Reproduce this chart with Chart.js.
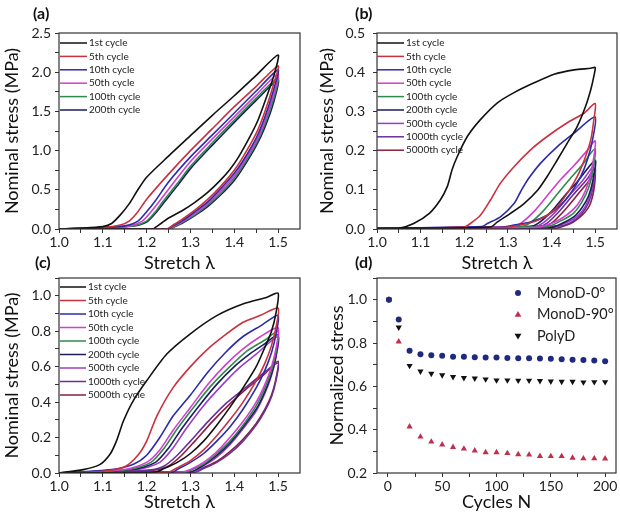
<!DOCTYPE html>
<html>
<head>
<meta charset="utf-8">
<script src="https://cdn.jsdelivr.net/npm/chart.js@4.4.1/dist/chart.umd.min.js"></script>
<style>
  body { margin: 0; background: #fff; width: 620px; height: 519px; position: relative; overflow: hidden; }
  canvas { position: absolute; }
  .lab { position: absolute; font: bold 16px Lato, sans-serif; line-height: 16px; color: #111; }
</style>
</head>
<body>
<canvas id="ca" width="310" height="280" style="left:0;top:0"></canvas>
<canvas id="cb" width="310" height="280" style="left:310px;top:0"></canvas>
<canvas id="cc" width="310" height="264" style="left:0;top:255px"></canvas>
<canvas id="cd" width="310" height="264" style="left:310px;top:255px"></canvas>
<div class="lab" style="left:33px;top:5px">(a)</div>
<div class="lab" style="left:355px;top:5px">(b)</div>
<div class="lab" style="left:35px;top:254px">(c)</div>
<div class="lab" style="left:355px;top:254px">(d)</div>
<script>
// ---- panel (a): [stretch, stress MPa], loading then unloading
const a1st   = [[1.0,0],[1.05,0.01],[1.1,0.03],[1.12,0.07],[1.14,0.18],[1.16,0.32],[1.18,0.5],[1.2,0.66],[1.25,0.93],[1.3,1.19],[1.35,1.45],[1.4,1.7],[1.45,1.96],[1.5,2.22],
                [1.49,1.95],[1.474,1.69],[1.455,1.4],[1.436,1.18],[1.41,0.92],[1.39,0.76],[1.368,0.62],[1.34,0.47],[1.31,0.34],[1.28,0.23],[1.25,0.14],[1.235,0.08],[1.22,0.02],[1.215,0],[1.0,0]];
const a5th   = [[1.0,0],[1.1,0.02],[1.14,0.05],[1.16,0.1],[1.18,0.22],[1.2,0.38],[1.25,0.7],[1.3,1.0],[1.35,1.28],[1.4,1.56],[1.45,1.82],[1.5,2.08],
                [1.49,1.85],[1.47,1.5],[1.45,1.22],[1.42,0.92],[1.4,0.75],[1.37,0.55],[1.34,0.38],[1.31,0.24],[1.28,0.12],[1.26,0.05],[1.245,0],[1.0,0]];
const a10th  = [[1.0,0],[1.1,0.02],[1.15,0.04],[1.18,0.1],[1.2,0.22],[1.22,0.36],[1.25,0.6],[1.3,0.92],[1.35,1.2],[1.4,1.48],[1.45,1.76],[1.5,2.03],
                [1.49,1.78],[1.47,1.43],[1.45,1.16],[1.42,0.87],[1.4,0.71],[1.37,0.52],[1.34,0.35],[1.31,0.22],[1.28,0.1],[1.26,0.04],[1.248,0],[1.0,0]];
const a50th  = [[1.0,0],[1.1,0.02],[1.16,0.04],[1.19,0.1],[1.21,0.22],[1.23,0.36],[1.26,0.58],[1.3,0.86],[1.35,1.15],[1.4,1.43],[1.45,1.71],[1.5,1.98],
                [1.49,1.72],[1.47,1.38],[1.45,1.12],[1.42,0.84],[1.4,0.68],[1.37,0.49],[1.34,0.33],[1.31,0.2],[1.28,0.09],[1.26,0.03],[1.25,0],[1.0,0]];
const a100th = [[1.0,0],[1.1,0.02],[1.17,0.04],[1.2,0.1],[1.22,0.22],[1.24,0.37],[1.27,0.58],[1.3,0.8],[1.35,1.1],[1.4,1.39],[1.45,1.67],[1.5,1.93],
                [1.49,1.67],[1.47,1.34],[1.45,1.09],[1.42,0.81],[1.4,0.65],[1.37,0.46],[1.34,0.31],[1.31,0.18],[1.28,0.08],[1.26,0.02],[1.252,0],[1.0,0]];
const a200th = [[1.0,0],[1.1,0.02],[1.17,0.04],[1.2,0.09],[1.22,0.2],[1.24,0.34],[1.27,0.55],[1.3,0.77],[1.35,1.07],[1.4,1.36],[1.45,1.64],[1.5,1.9],
                [1.49,1.62],[1.47,1.3],[1.45,1.06],[1.42,0.78],[1.4,0.62],[1.37,0.44],[1.34,0.29],[1.31,0.17],[1.28,0.07],[1.26,0.02],[1.255,0],[1.0,0]];

// ---- panel (b)
const b1st    = [[1.0,0.002],[1.05,0.002],[1.084,0.014],[1.12,0.04],[1.145,0.074],[1.161,0.108],[1.172,0.151],[1.184,0.185],[1.207,0.236],[1.237,0.279],[1.276,0.322],[1.314,0.348],[1.36,0.373],[1.406,0.395],[1.452,0.406],[1.49,0.41],[1.5,0.412],
                 [1.497,0.39],[1.49,0.356],[1.478,0.313],[1.459,0.262],[1.436,0.219],[1.413,0.176],[1.39,0.134],[1.368,0.099],[1.337,0.065],[1.306,0.04],[1.276,0.018],[1.26,0.005],[1.0,0.002]];
const b5th    = [[1.0,0.002],[1.2,0.005],[1.214,0.014],[1.237,0.035],[1.26,0.074],[1.283,0.117],[1.314,0.159],[1.352,0.202],[1.39,0.236],[1.436,0.271],[1.475,0.296],[1.5,0.32],
                 [1.496,0.271],[1.49,0.228],[1.478,0.185],[1.459,0.134],[1.436,0.091],[1.406,0.048],[1.368,0.022],[1.329,0.01],[1.29,0.004],[1.0,0.002]];
const b10th   = [[1.0,0.002],[1.24,0.006],[1.253,0.014],[1.283,0.031],[1.314,0.065],[1.329,0.095],[1.345,0.125],[1.375,0.168],[1.414,0.211],[1.452,0.245],[1.5,0.286],
                 [1.494,0.228],[1.482,0.176],[1.467,0.134],[1.444,0.091],[1.421,0.061],[1.39,0.035],[1.352,0.018],[1.314,0.01],[1.28,0.004],[1.0,0.002]];
const b50th   = [[1.0,0.002],[1.31,0.006],[1.33,0.015],[1.36,0.045],[1.39,0.085],[1.42,0.125],[1.45,0.16],[1.48,0.198],[1.5,0.225],
                 [1.495,0.17],[1.485,0.12],[1.47,0.08],[1.45,0.05],[1.42,0.025],[1.39,0.01],[1.36,0.004],[1.0,0.002]];
const b100th  = [[1.0,0.002],[1.33,0.006],[1.35,0.015],[1.38,0.045],[1.41,0.085],[1.44,0.125],[1.47,0.163],[1.5,0.205],
                 [1.495,0.15],[1.485,0.105],[1.47,0.07],[1.45,0.04],[1.42,0.02],[1.39,0.006],[1.0,0.002]];
const b200th  = [[1.0,0.002],[1.35,0.006],[1.37,0.015],[1.4,0.045],[1.43,0.085],[1.46,0.122],[1.5,0.175],
                 [1.495,0.125],[1.485,0.085],[1.47,0.055],[1.45,0.03],[1.42,0.012],[1.4,0.004],[1.0,0.002]];
const b500th  = [[1.0,0.002],[1.36,0.006],[1.38,0.015],[1.41,0.045],[1.44,0.085],[1.47,0.122],[1.5,0.165],
                 [1.495,0.115],[1.485,0.075],[1.47,0.045],[1.45,0.025],[1.42,0.01],[1.4,0.003],[1.0,0.002]];
const b1000th = [[1.0,0.002],[1.37,0.006],[1.39,0.015],[1.42,0.048],[1.45,0.088],[1.48,0.125],[1.5,0.155],
                 [1.495,0.105],[1.485,0.068],[1.47,0.04],[1.45,0.02],[1.42,0.008],[1.0,0.002]];
const b5000th = [[1.0,0.002],[1.38,0.006],[1.4,0.015],[1.43,0.048],[1.46,0.088],[1.49,0.128],[1.5,0.145],
                 [1.497,0.1],[1.487,0.06],[1.47,0.035],[1.45,0.018],[1.43,0.008],[1.41,0.002],[1.0,0.002]];

// ---- panel (c)
const c1st    = [[1.0,0],[1.055,0.019],[1.093,0.047],[1.116,0.104],[1.131,0.18],[1.147,0.293],[1.169,0.406],[1.2,0.52],[1.246,0.671],[1.299,0.784],[1.36,0.888],[1.421,0.955],[1.475,0.992],[1.5,1.015],
                 [1.495,0.9],[1.485,0.8],[1.47,0.71],[1.45,0.6],[1.42,0.48],[1.39,0.37],[1.36,0.27],[1.33,0.18],[1.3,0.11],[1.27,0.06],[1.24,0.025],[1.22,0.005],[1.0,0]];
const c5th    = [[1.0,0],[1.1,0.01],[1.15,0.035],[1.18,0.1],[1.2,0.18],[1.223,0.32],[1.26,0.48],[1.3,0.6],[1.34,0.7],[1.38,0.78],[1.42,0.85],[1.46,0.89],[1.5,0.93],
                 [1.495,0.82],[1.485,0.72],[1.47,0.62],[1.45,0.52],[1.42,0.4],[1.39,0.3],[1.36,0.21],[1.33,0.13],[1.3,0.07],[1.27,0.03],[1.25,0.005],[1.0,0]];
const c10th   = [[1.0,0],[1.12,0.02],[1.17,0.05],[1.2,0.1],[1.23,0.2],[1.26,0.32],[1.3,0.44],[1.34,0.57],[1.38,0.68],[1.42,0.77],[1.46,0.83],[1.5,0.89],
                 [1.495,0.78],[1.485,0.68],[1.47,0.58],[1.45,0.48],[1.42,0.36],[1.39,0.26],[1.36,0.18],[1.33,0.11],[1.3,0.06],[1.27,0.02],[1.26,0.005],[1.0,0]];
const c50th   = [[1.0,0],[1.15,0.02],[1.2,0.06],[1.23,0.13],[1.26,0.24],[1.3,0.37],[1.34,0.5],[1.38,0.61],[1.42,0.7],[1.46,0.77],[1.5,0.82],
                 [1.495,0.7],[1.485,0.6],[1.47,0.5],[1.45,0.4],[1.42,0.29],[1.39,0.2],[1.36,0.12],[1.33,0.06],[1.3,0.02],[1.28,0.005],[1.0,0]];
const c100th  = [[1.0,0],[1.16,0.02],[1.21,0.06],[1.24,0.14],[1.27,0.25],[1.31,0.38],[1.35,0.5],[1.39,0.6],[1.43,0.69],[1.47,0.75],[1.5,0.8],
                 [1.495,0.68],[1.485,0.58],[1.47,0.48],[1.45,0.38],[1.42,0.27],[1.39,0.18],[1.36,0.11],[1.33,0.05],[1.3,0.015],[1.29,0.005],[1.0,0]];
const c200th  = [[1.0,0],[1.17,0.02],[1.22,0.06],[1.25,0.14],[1.28,0.25],[1.32,0.38],[1.36,0.5],[1.4,0.6],[1.44,0.68],[1.47,0.73],[1.5,0.78],
                 [1.495,0.66],[1.485,0.56],[1.47,0.46],[1.45,0.36],[1.42,0.26],[1.39,0.17],[1.36,0.1],[1.33,0.045],[1.31,0.015],[1.3,0.005],[1.0,0]];
const c500th  = [[1.0,0],[1.18,0.02],[1.23,0.06],[1.26,0.14],[1.29,0.25],[1.33,0.38],[1.37,0.49],[1.41,0.59],[1.45,0.67],[1.5,0.77],
                 [1.495,0.65],[1.485,0.55],[1.47,0.45],[1.45,0.35],[1.42,0.25],[1.39,0.16],[1.36,0.09],[1.33,0.04],[1.31,0.01],[1.0,0]];
const c1000th = [[1.0,0],[1.2,0.015],[1.24,0.04],[1.27,0.1],[1.3,0.18],[1.34,0.29],[1.38,0.39],[1.42,0.47],[1.46,0.55],[1.5,0.62],
                 [1.495,0.52],[1.485,0.43],[1.47,0.35],[1.45,0.27],[1.42,0.18],[1.39,0.11],[1.36,0.06],[1.33,0.025],[1.31,0.005],[1.0,0]];
const c5000th = [[1.0,0],[1.21,0.015],[1.25,0.04],[1.28,0.1],[1.31,0.18],[1.35,0.29],[1.39,0.39],[1.43,0.48],[1.47,0.56],[1.5,0.63],
                 [1.495,0.53],[1.485,0.44],[1.47,0.36],[1.45,0.28],[1.42,0.19],[1.39,0.12],[1.36,0.065],[1.33,0.03],[1.31,0.008],[1.3,0],[1.0,0]];

// ---- panel (d)
const cyclesN   = [1,10,20,30,40,50,60,70,80,90,100,110,120,130,140,150,160,170,180,190,200];
const mono0     = [1.0,0.908,0.764,0.748,0.744,0.741,0.737,0.736,0.734,0.733,0.733,0.731,0.73,0.73,0.728,0.727,0.725,0.723,0.722,0.719,0.716];
const mono90    = [1.0,0.806,0.414,0.367,0.344,0.331,0.319,0.312,0.303,0.295,0.295,0.291,0.286,0.284,0.278,0.277,0.277,0.27,0.267,0.267,0.266];
const polyD     = [1.0,0.872,0.695,0.669,0.659,0.652,0.644,0.639,0.637,0.633,0.628,0.628,0.627,0.627,0.625,0.623,0.622,0.622,0.619,0.62,0.62];

const cycleLabels = ['1st cycle','5th cycle','10th cycle','50th cycle','100th cycle','200th cycle','500th cycle','1000th cycle','5000th cycle'];
const cycleColors = ['#111111','#c8323f','#2c2caa','#d23fd0','#2f8a4e','#1c1c5c','#9a3fc4','#6a2f9a','#8a1f3c'];

const FONT = 'Lato, "Open Sans", sans-serif';

const boxPlugin = {
  id: 'box',
  afterDraw(chart) {
    const {ctx, chartArea: a} = chart;
    ctx.save();
    ctx.strokeStyle = '#333';
    ctx.lineWidth = 1.2;
    ctx.strokeRect(a.left, a.top, a.right - a.left, a.bottom - a.top);
    ctx.restore();
  }
};

const lineLegend = {
  id: 'lineLegend',
  afterDraw(chart, args, o) {
    if (!o || !o.show) return;
    const ctx = chart.ctx;
    ctx.save();
    ctx.font = o.font;
    ctx.textBaseline = 'middle';
    chart.data.datasets.forEach((ds, i) => {
      const y = o.y + i * o.dy;
      if (o.markers) {
        ctx.fillStyle = ds.pointBackgroundColor;
        const x = o.x, r = ds.pointRadius;
        ctx.beginPath();
        if (ds.pointStyle === 'circle') {
          ctx.arc(x, y, r, 0, Math.PI * 2);
        } else {
          const s = ds.pointRotation === 180 ? -1 : 1;
          ctx.moveTo(x, y - s * r);
          ctx.lineTo(x + r * 0.95, y + s * r * 0.6);
          ctx.lineTo(x - r * 0.95, y + s * r * 0.6);
          ctx.closePath();
        }
        ctx.fill();
        ctx.fillStyle = '#222';
        ctx.fillText(ds.label, o.x + o.gap, y);
      } else {
        ctx.strokeStyle = ds.borderColor;
        ctx.lineWidth = 1.5;
        ctx.beginPath();
        ctx.moveTo(o.x, y);
        ctx.lineTo(o.x + o.len, y);
        ctx.stroke();
        ctx.fillStyle = '#222';
        ctx.fillText(ds.label, o.x + o.len + 2, y);
      }
    });
    ctx.restore();
  }
};

function loopSets(loops) {
  return loops.map((pts, i) => ({
    label: cycleLabels[i],
    data: pts.map(p => ({x: p[0], y: p[1]})),
    borderColor: cycleColors[i],
    borderWidth: 1.6,
    showLine: true,
    pointRadius: 0,
    tension: 0.25,
    fill: false
  }));
}

function axis(o) {
  return {
    type: 'linear',
    min: o.min, max: o.max,
    afterFit: s => { if (o.w) s.width = o.w; if (o.h) s.height = o.h; },
    afterBuildTicks: s => { s.ticks = s.ticks.filter(t => o.keep(t.value)); },
    border: {display: false},
    grid: {drawOnChartArea: false, drawTicks: true, tickLength: 4, tickColor: '#333', tickWidth: 1},
    ticks: {
      stepSize: o.step, autoSkip: false, maxRotation: 0, padding: o.pad, includeBounds: false,
      color: '#222', font: {family: FONT, size: 14},
      callback: o.label
    },
    title: {display: true, text: o.title, color: '#111', font: {family: FONT, size: 18}, padding: o.tpad}
  };
}

const stretchAxis = (h) => axis({
  min: 1.0, max: 1.55, step: 0.05, h: h, pad: 1, title: 'Stretch λ', tpad: {top: 0, bottom: 6},
  keep: v => v <= 1.5001,
  label: v => { const k = Math.round(v * 100); return k % 10 === 0 ? (k / 100).toFixed(1) : ''; }
});

function stressAxis(max, step, every, w, tpadTop, pad) {
  return axis({
    min: 0, max: max, step: step, w: w, pad: pad, title: 'Nominal stress (MPa)', tpad: {top: tpadTop, bottom: 0},
    keep: v => true,
    label: v => { const k = Math.round(v * 1000); return k % every === 0 ? (k / 1000).toFixed(1) : ''; }
  });
}

function loopChart(id, loops, yAxis, xH, pad, leg) {
  return new Chart(document.getElementById(id), {
    type: 'scatter',
    data: {datasets: loopSets(loops)},
    options: {
      responsive: false, animation: false,
      layout: {padding: pad},
      scales: {x: stretchAxis(xH), y: yAxis},
      plugins: {legend: {display: false}, tooltip: {enabled: false}, lineLegend: leg}
    },
    plugins: [boxPlugin, lineLegend]
  });
}

loopChart('ca', [a1st, a5th, a10th, a50th, a100th, a200th],
  stressAxis(2.5, 0.25, 500, 59, 1, 4), 51,
  {top: 33, right: 10, left: 0, bottom: 0},
  {show: true, x: 60, y: 43, dy: 13.4, len: 27, font: '10px ' + FONT});

loopChart('cb', [b1st, b5th, b10th, b50th, b100th, b200th, b500th, b1000th, b5000th],
  stressAxis(0.5, 0.05, 100, 67, 6.5, 8), 51,
  {top: 33, right: 3, left: 0, bottom: 0},
  {show: true, x: 67, y: 43, dy: 13.4, len: 27, font: '10px ' + FONT});

loopChart('cc', [c1st, c5th, c10th, c50th, c100th, c200th, c500th, c1000th, c5000th],
  stressAxis(1.1, 0.1, 200, 59, 1.5, 4), 46,
  {top: 23, right: 10, left: 0, bottom: 0},
  {show: true, x: 60, y: 32, dy: 13.5, len: 26, font: '10px ' + FONT});

// ---- panel (d)
const pointSet = (label, vals, color, style, rot, r) => ({
  label: label,
  data: cyclesN.map((n, i) => ({x: n, y: vals[i]})),
  pointStyle: style, pointRotation: rot, rotation: rot, pointRadius: r,
  pointBackgroundColor: color, pointBorderColor: color, pointBorderWidth: 0,
  backgroundColor: color, borderColor: color, showLine: false
});

new Chart(document.getElementById('cd'), {
  type: 'scatter',
  data: {datasets: [
    pointSet('MonoD-0°', mono0, '#1f2a7e', 'circle', 0, 3),
    pointSet('MonoD-90°', mono90, '#c0304e', 'triangle', 0, 3.6),
    pointSet('PolyD', polyD, '#111111', 'triangle', 180, 3.6)
  ]},
  options: {
    responsive: false, animation: false,
    layout: {padding: {top: 23, right: 4, left: 0, bottom: 0}},
    scales: {
      x: axis({
        min: -10, max: 210, step: 25, h: 46, pad: 1, title: 'Cycles N', tpad: {top: 0, bottom: 6},
        keep: v => v >= 0 && v <= 200,
        label: v => v % 50 === 0 ? String(v) : ''
      }),
      y: axis({
        min: 0.2, max: 1.1, step: 0.1, w: 67, pad: 6, title: 'Normalized stress', tpad: {top: 16, bottom: 0},
        keep: v => true,
        label: v => { const k = Math.round(v * 10); return k % 2 === 0 ? (k / 10).toFixed(1) : ''; }
      })
    },
    plugins: {
      legend: {display: false}, tooltip: {enabled: false},
      lineLegend: {show: true, markers: true, x: 208, y: 38, dy: 21.5, gap: 19, font: '14.5px ' + FONT}
    }
  },
  plugins: [boxPlugin, lineLegend]
});
</script>
</body>
</html>
